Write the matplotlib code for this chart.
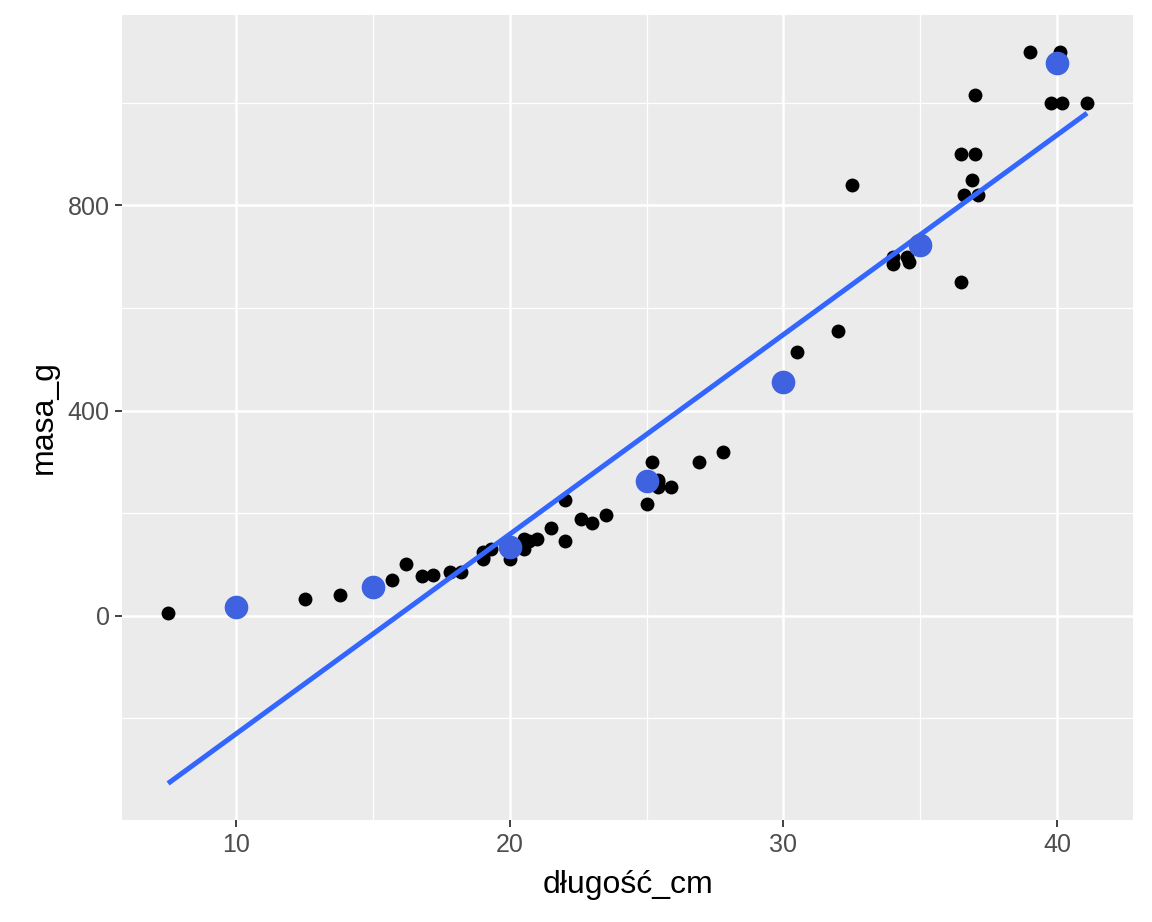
import matplotlib.pyplot as plt
import numpy as np

# perch: length (cm) and mass (g)
dlugosc_cm = [7.5, 12.5, 13.8, 15.0, 15.7, 16.2, 16.8, 17.2, 17.8, 18.2,
              19.0, 19.0, 19.0, 19.3, 20.0, 20.0, 20.0, 20.0, 20.0, 20.5,
              20.5, 20.7, 21.0, 21.5, 22.0, 22.0, 22.6, 23.0, 23.5, 25.0,
              25.2, 25.4, 25.4, 25.4, 25.9, 26.9, 27.8, 30.5, 32.0, 32.5,
              34.0, 34.0, 34.5, 34.6, 36.5, 36.5, 36.6, 36.9, 37.0, 37.0,
              37.1, 39.0, 39.8, 40.1, 40.2, 41.1]
masa_g = [5.9, 32, 40, 51.5, 70, 100, 78, 80, 85, 85,
          110, 115, 125, 130, 120, 120, 130, 135, 110, 130,
          150, 145, 150, 170, 225, 145, 188, 180, 197, 218,
          300, 260, 265, 250, 250, 300, 320, 514, 556, 840,
          685, 700, 700, 690, 900, 650, 820, 850, 900, 1015,
          820, 1100, 1000, 1100, 1000, 1000]

# highlighted (blue) points
pred_x = [10, 15, 20, 25, 30, 35, 40]
pred_y = [16, 55, 133, 262, 455, 722, 1078]

x = np.array(dlugosc_cm)
y = np.array(masa_g)

plt.rcParams['font.family'] = ['Liberation Sans', 'DejaVu Sans']

fig = plt.figure(figsize=(11.52, 9.22), dpi=100)
ax = fig.add_axes([0.106, 0.1106, 0.8775, 0.8731])
ax.set_facecolor('#EBEBEB')

# linear fit (geom_smooth method = lm)
k, b = np.polyfit(x, y, 1)
xs = np.array([x.min(), x.max()])
ys = k * xs + b

ax.scatter(x, y, s=100, color='black', zorder=3, linewidths=0)
ax.plot(xs, ys, color='#3366FF', linewidth=3.6, zorder=4, solid_capstyle='butt')
ax.scatter(pred_x, pred_y, s=290, color='#3F63E0', zorder=5, linewidths=0)

# ggplot-like expansion
xmin, xmax = x.min(), x.max()
ymin = min(y.min(), ys.min())
ymax = max(y.max(), ys.max())
dx = (xmax - xmin) * 0.05
dy = (ymax - ymin) * 0.05
ax.set_xlim(xmin - dx, xmax + dx)
ax.set_ylim(ymin - dy, ymax + dy)

ax.set_xticks([10, 20, 30, 40])
ax.set_yticks([0, 400, 800])
ax.set_xticks([15, 25, 35], minor=True)
ax.set_yticks([-200, 200, 600, 1000], minor=True)
ax.grid(which='major', color='white', linewidth=1.8)
ax.grid(which='minor', color='white', linewidth=0.9)
ax.set_axisbelow(True)
for s in ax.spines.values():
    s.set_visible(False)

ax.tick_params(which='major', length=5, width=1.3, color='#333333',
               labelsize=18, labelcolor='#4D4D4D', pad=4)
ax.tick_params(which='minor', length=0)

ax.set_xlabel('długość_cm', fontsize=23, color='black', labelpad=10)
ax.set_ylabel('masa_g', fontsize=23, color='black', labelpad=6)

fig.savefig('out.png', dpi=100, facecolor='white')
